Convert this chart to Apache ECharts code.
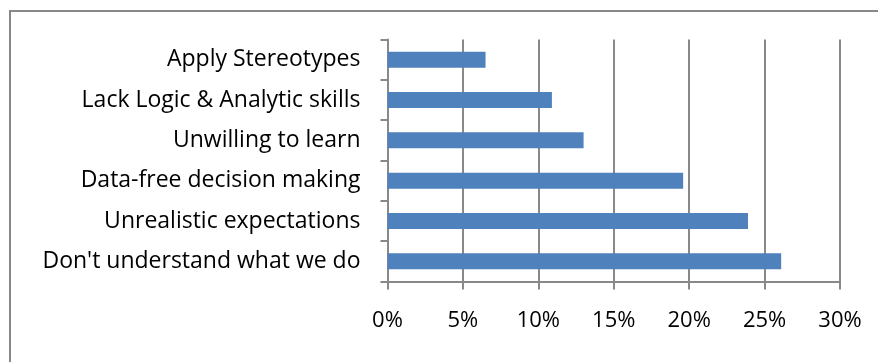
<!DOCTYPE html>
<html>
<head>
<meta charset="utf-8">
<script src="https://cdn.jsdelivr.net/npm/echarts@6/dist/echarts.min.js"></script>
<style>
  html, body { margin: 0; padding: 0; background: #fff; }
  #chart { width: 878px; height: 362px; }
</style>
</head>
<body>
<div id="chart"></div>
<script>
// Reasons listed top to bottom
const categories = [
  'Apply Stereotypes',
  'Lack Logic & Analytic skills',
  'Unwilling to learn',
  'Data-free decision making',
  'Unrealistic expectations',
  "Don't understand what we do"
];
// Share of respondents, in percent
const shares = [6.5, 10.9, 13.0, 19.6, 23.9, 26.1];
// Value axis ticks
const axisMin = 0;
const axisMax = 30;
const axisStep = 5;

const FONT = '"Open Sans", "Noto Sans", sans-serif';
const GRID_COLOR = '#898989';

const chart = echarts.init(document.getElementById('chart'), null, { renderer: 'canvas' });
chart.setOption({
  animation: false,
  backgroundColor: '#ffffff',
  textStyle: { fontFamily: FONT },
  graphic: [
    { type: 'line', shape: { x1: 10, y1: 11, x2: 878, y2: 11 }, style: { stroke: '#888888', lineWidth: 2 } },
    { type: 'line', shape: { x1: 10, y1: 10, x2: 10, y2: 362 }, style: { stroke: '#888888', lineWidth: 2 } }
  ],
  grid: { left: 387.5, right: 38, top: 39.5, bottom: 80.5, containLabel: false },
  xAxis: {
    type: 'value',
    min: axisMin,
    max: axisMax,
    interval: axisStep,
    axisLine: { show: true, lineStyle: { color: GRID_COLOR, width: 2 } },
    axisTick: { show: true, length: 8, lineStyle: { color: GRID_COLOR, width: 2 } },
    splitLine: { show: true, lineStyle: { color: GRID_COLOR, width: 2 } },
    axisLabel: {
      formatter: '{value}%',
      color: '#000',
      fontFamily: FONT,
      fontSize: 22,
      margin: 28
    }
  },
  yAxis: {
    type: 'category',
    data: categories,
    inverse: true,
    axisLine: { show: true, lineStyle: { color: GRID_COLOR, width: 2 } },
    axisTick: { show: true, length: 7, lineStyle: { color: GRID_COLOR, width: 2 } },
    axisLabel: {
      color: '#000',
      fontFamily: FONT,
      fontSize: 23,
      margin: 27
    }
  },
  series: [{
    type: 'bar',
    data: shares,
    barWidth: 16,
    itemStyle: { color: '#4f81bd' }
  }]
});
</script>
</body>
</html>
